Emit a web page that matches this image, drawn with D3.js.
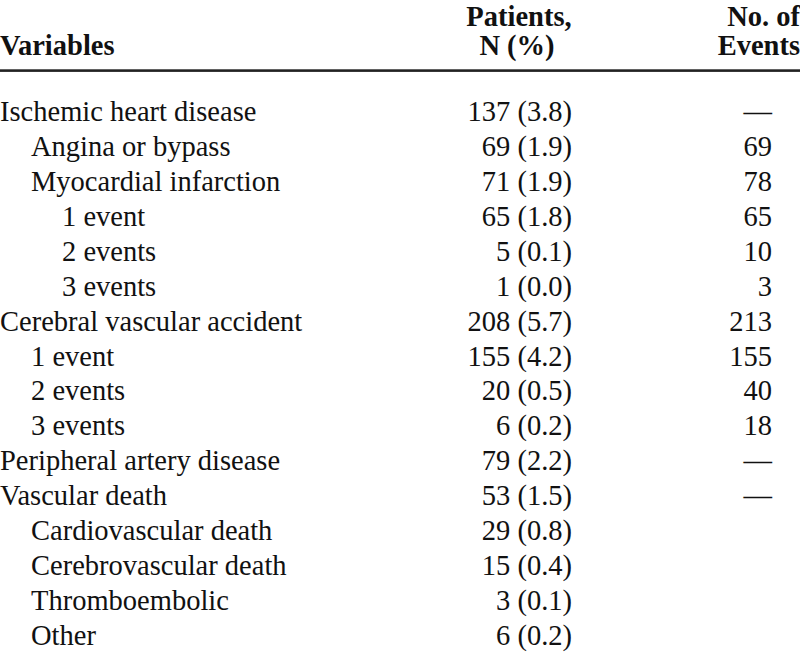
<!DOCTYPE html>
<html><head><meta charset="utf-8">
<script src="https://cdn.jsdelivr.net/npm/d3@7"></script>
<style>
html,body{margin:0;padding:0;background:#fff;}
svg{display:block;}
text{font-family:"Liberation Serif","Times New Roman",serif;fill:#111;}
</style></head>
<body><svg id="c" width="800" height="653"></svg>
<script>
const headers = ["Variables", "Patients,|N (%)", "No. of|Events"];
const variables = ["Ischemic heart disease","Angina or bypass","Myocardial infarction","1 event","2 events","3 events",
 "Cerebral vascular accident","1 event","2 events","3 events","Peripheral artery disease","Vascular death",
 "Cardiovascular death","Cerebrovascular death","Thromboembolic","Other"];
const levels = [0,1,1,2,2,2,0,1,1,1,0,0,1,1,1,1];
const patients = ["137 (3.8)","69 (1.9)","71 (1.9)","65 (1.8)","5 (0.1)","1 (0.0)","208 (5.7)","155 (4.2)","20 (0.5)","6 (0.2)","79 (2.2)","53 (1.5)","29 (0.8)","15 (0.4)","3 (0.1)","6 (0.2)"];
const events = ["—","69","78","65","10","3","213","155","40","18","—","—","","","",""];

const svg = d3.select("#c");
const fs = 28.5;
const y = d3.scalePoint().domain(d3.range(variables.length)).range([121, 645]);
const indent = d3.scaleLinear().domain([0,1]).range([0, 31]);

// header
const h = svg.append("g").attr("font-weight","bold").attr("font-size", fs);
h.append("text").attr("x",0).attr("y",55).text(headers[0]);
const p = headers[1].split("|");
h.append("text").attr("x",519).attr("y",25.5).attr("text-anchor","middle").text(p[0]);
h.append("text").attr("x",517).attr("y",55).attr("text-anchor","middle").text(p[1]);
const e = headers[2].split("|");
h.append("text").attr("x",800).attr("y",25.5).attr("text-anchor","end").text(e[0]);
h.append("text").attr("x",800).attr("y",55).attr("text-anchor","end").text(e[1]);

svg.append("rect").attr("x",0).attr("y",69.3).attr("width",800).attr("height",2.6).attr("fill","#222");

const rows = svg.append("g").attr("font-size", fs);
rows.selectAll("text.v").data(variables).join("text").attr("class","v")
  .attr("x",(d,i)=>indent(levels[i])).attr("y",(d,i)=>y(i)).text(d=>d);
rows.selectAll("text.p").data(patients).join("text").attr("class","p")
  .attr("x",572).attr("y",(d,i)=>y(i)).attr("text-anchor","end").text(d=>d);
rows.selectAll("text.e").data(events).join("text").attr("class","e")
  .attr("x",772).attr("y",(d,i)=>y(i)).attr("text-anchor","end").text(d=>d);
</script></body></html>
